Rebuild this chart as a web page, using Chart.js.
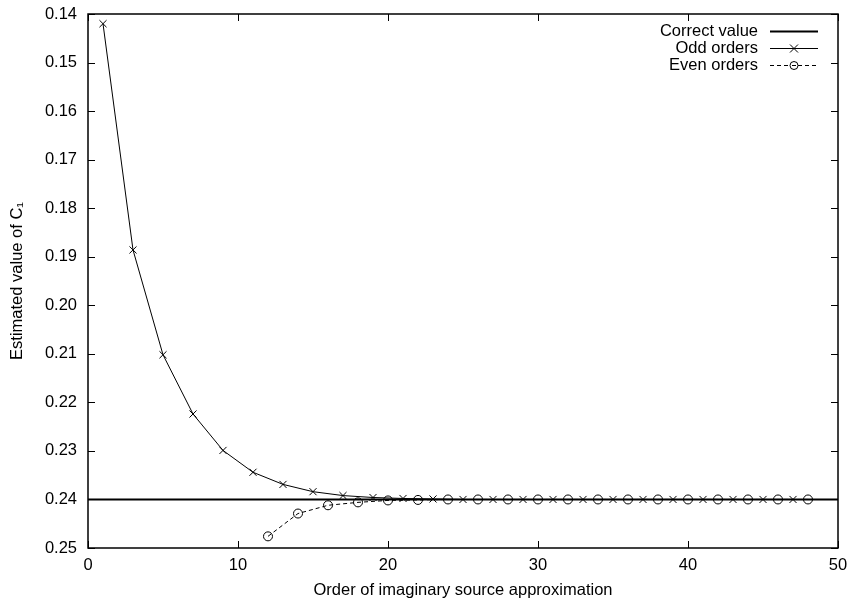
<!DOCTYPE html>
<html>
<head>
<meta charset="utf-8">
<script src="https://cdn.jsdelivr.net/npm/chart.js@4/dist/chart.umd.min.js"></script>
<style>
html,body{margin:0;padding:0;background:#fff;}
#wrap{width:851px;height:608px;position:relative;}
</style>
</head>
<body>
<div id="wrap"><canvas id="c" width="851" height="608"></canvas></div>
<script>
// ---- data ----
const correctValue = 0.24;
const correctX = [0, 50];
const oddOrders = [1,3,5,7,9,11,13,15,17,19,21,23,25,27,29,31,33,35,37,39,41,43,45,47];
const oddValues = [0.1420,0.1886,0.2102,0.2224,0.2299,0.2344,0.2369,0.2384,0.2392,0.2396,0.2398,0.2399,0.2400,0.2400,0.2400,0.2400,0.2400,0.2400,0.2400,0.2400,0.2400,0.2400,0.2400,0.2400];
const evenOrders = [12,14,16,18,20,22,24,26,28,30,32,34,36,38,40,42,44,46,48];
const evenValues = [0.2476,0.2429,0.2412,0.2406,0.2402,0.2401,0.2400,0.2400,0.2400,0.2400,0.2400,0.2400,0.2400,0.2400,0.2400,0.2400,0.2400,0.2400,0.2400];
const xTicks = [0,10,20,30,40,50];
const yTicks = [0.14,0.15,0.16,0.17,0.18,0.19,0.20,0.21,0.22,0.23,0.24,0.25];
const legendLabels = ['Correct value','Odd orders','Even orders'];
const xTitle = 'Order of imaginary source approximation';
const yTitle = 'Estimated value of C\u2081';

const FONT = "'Liberation Sans', Arial, Helvetica, sans-serif";
const FS = 16.5;

const framePlugin = {
  id: 'frame',
  afterDatasetsDraw(chart) {
    const {ctx, chartArea: a, scales: {x, y}} = chart;
    ctx.save();
    ctx.strokeStyle = '#000';
    ctx.lineWidth = 1;
    ctx.beginPath();
    xTicks.forEach(v => {
      const px = Math.round(x.getPixelForValue(v)) + 0.5;
      ctx.moveTo(px, a.bottom); ctx.lineTo(px, a.bottom - 7);
      ctx.moveTo(px, a.top); ctx.lineTo(px, a.top + 7);
    });
    yTicks.forEach(v => {
      const py = Math.round(y.getPixelForValue(v)) + 0.5;
      ctx.moveTo(a.left, py); ctx.lineTo(a.left + 7, py);
      ctx.moveTo(a.right, py); ctx.lineTo(a.right - 7, py);
    });
    ctx.stroke();
    ctx.lineWidth = 1.5;
    ctx.strokeRect(a.left, a.top, a.right - a.left, a.bottom - a.top);
    ctx.font = FS + 'px ' + FONT;
    ctx.fillStyle = '#000';
    ctx.textAlign = 'right';
    ctx.textBaseline = 'middle';
    const textRight = 758, s0 = 770, s1 = 818;
    const rows = [31, 48, 65];
    chart.data.datasets.forEach((ds, i) => {
      const yy = rows[i] + 0.5;
      ctx.fillText(legendLabels[i], textRight, rows[i]);
      ctx.save();
      ctx.strokeStyle = '#000';
      ctx.lineWidth = ds.borderWidth;
      ctx.setLineDash(ds.borderDash || []);
      ctx.beginPath(); ctx.moveTo(s0, yy); ctx.lineTo(s1, yy); ctx.stroke();
      ctx.setLineDash([]);
      ctx.lineWidth = 1;
      const cx = (s0 + s1) / 2;
      if (ds.pointStyle === 'crossRot' && ds.pointRadius > 0) {
        ctx.beginPath();
        ctx.moveTo(cx - 4, yy - 4); ctx.lineTo(cx + 4, yy + 4);
        ctx.moveTo(cx - 4, yy + 4); ctx.lineTo(cx + 4, yy - 4);
        ctx.stroke();
      } else if (ds.pointStyle === 'circle' && ds.pointRadius > 0) {
        ctx.fillStyle = '#fff';
        ctx.beginPath(); ctx.arc(cx, yy, 4, 0, Math.PI * 2); ctx.fill(); ctx.stroke();
        ctx.beginPath(); ctx.moveTo(cx - 2, yy); ctx.lineTo(cx + 2, yy); ctx.stroke();
      }
      ctx.restore();
    });
    ctx.restore();
  }
};

new Chart(document.getElementById('c'), {
  type: 'scatter',
  data: {
    datasets: [
      {
        label: legendLabels[0],
        data: correctX.map(v => ({x: v, y: correctValue})),
        showLine: true, borderColor: '#000', borderWidth: 2,
        pointRadius: 0, pointStyle: 'line'
      },
      {
        label: legendLabels[1],
        data: oddOrders.map((v, i) => ({x: v, y: oddValues[i]})),
        showLine: true, borderColor: '#000', borderWidth: 1,
        pointStyle: 'crossRot', pointRadius: 5, pointBorderWidth: 1,
        pointBorderColor: '#000', backgroundColor: 'rgba(0,0,0,0)'
      },
      {
        label: legendLabels[2],
        data: evenOrders.map((v, i) => ({x: v, y: evenValues[i]})),
        showLine: true, borderColor: '#000', borderWidth: 1, borderDash: [4, 3],
        pointStyle: 'circle', pointRadius: 4.5, pointBorderWidth: 1,
        pointBorderColor: '#000', pointBackgroundColor: 'rgba(255,255,255,0)'
      }
    ]
  },
  options: {
    responsive: false,
    animation: false,
    layout: {padding: {top: 14, right: 13, left: 0, bottom: 0}},
    plugins: {legend: {display: false}, tooltip: {enabled: false}},
    scales: {
      x: {
        type: 'linear', min: 0, max: 50,
        afterBuildTicks: s => { s.ticks = xTicks.map(v => ({value: v})); },
        afterFit: s => { s.height = 60; s.paddingLeft = 0; s.paddingRight = 0; },
        grid: {display: false, drawTicks: false},
        border: {display: false},
        ticks: {color: '#000', font: {family: FONT, size: FS}, padding: 8, maxRotation: 0},
        title: {display: true, text: xTitle, color: '#000', font: {family: FONT, size: FS}, padding: {top: 8, bottom: 8}}
      },
      y: {
        type: 'linear', min: 0.14, max: 0.25, reverse: true,
        afterBuildTicks: s => { s.ticks = yTicks.map(v => ({value: v})); },
        afterFit: s => { s.width = 88; s.paddingTop = 0; s.paddingBottom = 0; },
        grid: {display: false, drawTicks: false},
        border: {display: false},
        ticks: {color: '#000', font: {family: FONT, size: FS}, padding: 11, callback: v => Number(v).toFixed(2)},
        title: {display: true, text: yTitle, color: '#000', font: {family: FONT, size: FS}, padding: {top: 8, bottom: 8}}
      }
    }
  },
  plugins: [framePlugin]
});
</script>
</body>
</html>
